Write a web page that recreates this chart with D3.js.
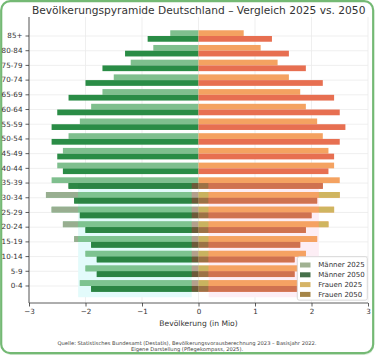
<!DOCTYPE html>
<html><head><meta charset="utf-8">
<script src="https://cdn.jsdelivr.net/npm/d3@7"></script>
<style>html,body{margin:0;padding:0;background:#fff;} svg{display:block;font-family:"DejaVu Sans",sans-serif;}</style>
</head><body><svg id="c" width="375" height="356"></svg>
<script>
const categories = ["85+","80-84","75-79","70-74","65-69","60-64","55-59","50-54","45-49","40-44","35-39","30-34","25-29","20-24","15-19","10-14","5-9","0-4"];
const maenner2025 = [0.5,0.8,1.2,1.5,1.7,1.9,2.1,2.3,2.4,2.5,2.6,2.7,2.6,2.4,2.2,2.0,2.0,2.1];
const maenner2050 = [0.9,1.3,1.7,2.0,2.3,2.5,2.6,2.6,2.5,2.4,2.3,2.2,2.1,2.0,1.9,1.8,1.8,1.9];
const frauen2025  = [0.8,1.1,1.4,1.6,1.8,1.9,2.1,2.2,2.3,2.4,2.5,2.5,2.4,2.3,2.1,1.9,1.8,1.8];
const frauen2050  = [1.3,1.6,1.9,2.2,2.4,2.5,2.6,2.5,2.4,2.3,2.2,2.1,2.0,1.9,1.8,1.7,1.7,1.75];
const xTicks = [-3,-2,-1,0,1,2,3];
const seriesNames = ["Männer 2025","Männer 2050","Frauen 2025","Frauen 2050"];
const titleText = "Bevölkerungspyramide Deutschland – Vergleich 2025 vs. 2050";
const xLabel = "Bevölkerung (in Mio)";
const sourceLines = ["Quelle: Statistisches Bundesamt (Destatis), Bevölkerungsvorausberechnung 2023 – Basisjahr 2022.","Eigene Darstellung (Pflegekompass, 2025)."];

const colors = {m25:"#7fbf8e", m50:"#2a8c46", f25:"#f4a261", f50:"#e76f51"};
const legendColors = ["#a0b192","#46704a","#d6b466","#a58548"];

const svg = d3.select("#c");
// outer card
svg.append("rect").attr("x",2).attr("y",3).attr("width",372).attr("height",352).attr("rx",9)
  .attr("fill","#cfe6cf").attr("opacity",0.7);
svg.append("rect").attr("x",1.2).attr("y",1.2).attr("width",372).attr("height",352).attr("rx",9)
  .attr("fill","#fff").attr("stroke","#74b974").attr("stroke-width",2.2);

const x = d3.scaleLinear().domain([-3,3]).range([29,368]);
const y = d3.scaleBand().domain(categories).range([28.65,293.35]).paddingInner(0.22).paddingOuter(0.11);
const bw = y.bandwidth();
const plotTop = 17, plotBottom = 303;

const data = categories.map((c,i)=>({cat:c, m25:maenner2025[i], m50:maenner2050[i], f25:frauen2025[i], f50:frauen2050[i]}));

// grid
const g = svg.append("g");
g.selectAll(".vg").data(xTicks).join("line")
  .attr("x1",d=>x(d)).attr("x2",d=>x(d)).attr("y1",plotTop).attr("y2",plotBottom)
  .attr("stroke","#ebebeb").attr("stroke-width",0.8);
g.selectAll(".hg").data(categories).join("line")
  .attr("x1",x(-3)).attr("x2",x(3)).attr("y1",d=>y(d)+bw/2).attr("y2",d=>y(d)+bw/2)
  .attr("stroke","#ebebeb").attr("stroke-width",0.8);

// overlay region (tinted)
const ovTop = y("35-39")+bw/2, ovBottom = y("0-4")+bw+5.5;
const regions = [
  {x0:-3, x1:-2.13, m25:"#98ae90", m50:"#2d8745", f25:colors.f25, f50:colors.f50},
  {x0:-2.13, x1:-0.12, m25:"#7ec390", m50:"#2b8443", f25:colors.f25, f50:colors.f50, bg:"#e3fbfb"},
  {x0:-0.12, x1:0, m25:"#b4a08d", m50:"#6d5a39", f25:colors.f25, f50:colors.f50},
  {x0:0, x1:0.18, m25:colors.m25, m50:colors.m50, f25:"#c9b35f", f50:"#9c7245"},
  {x0:0.18, x1:2.13, m25:colors.m25, m50:colors.m50, f25:"#f5a263", f50:"#cf7250", bg:"#fdeef5"},
  {x0:2.13, x1:3, m25:colors.m25, m50:colors.m50, f25:"#cfb560", f50:"#cf7250"}
];
regions.filter(r=>r.bg).forEach(r=>{
  svg.append("rect").attr("x",x(r.x0)).attr("y",ovTop).attr("width",x(r.x1)-x(r.x0)).attr("height",ovBottom-ovTop).attr("fill",r.bg);
});

function drawBars(sel, cols){
  const keys = [["m25",-1,0],["m50",-1,1],["f25",1,0],["f50",1,1]];
  keys.forEach(([k,s,off])=>{
    sel.append("g").selectAll("rect").data(data).join("rect")
      .attr("x",d=>s<0?x(-d[k]):x(0))
      .attr("width",d=>s<0?x(0)-x(-d[k]):x(d[k])-x(0))
      .attr("y",d=>y(d.cat)+off*bw/2).attr("height",bw/2).attr("fill",cols[k]);
  });
}
drawBars(svg.append("g"), colors);
const defs = svg.append("defs");
regions.forEach((r,i)=>{
  defs.append("clipPath").attr("id","rc"+i).append("rect")
    .attr("x",x(r.x0)).attr("y",ovTop).attr("width",x(r.x1)-x(r.x0)).attr("height",ovBottom-ovTop);
  drawBars(svg.append("g").attr("clip-path",`url(#rc${i})`), r);
});

// axes
const yAxis = d3.axisLeft(y).tickSize(3.5).tickPadding(3);
const yg = svg.append("g").attr("transform",`translate(${x(-3)},0)`).call(yAxis);
yg.select(".domain").remove();
svg.append("line").attr("x1",x(-3)).attr("x2",x(-3)).attr("y1",plotTop).attr("y2",plotBottom).attr("stroke","#333").attr("stroke-width",0.8);
yg.selectAll("text").attr("font-size",7.2).attr("fill","#333").attr("font-family","DejaVu Sans");
yg.selectAll(".tick line").attr("stroke","#333").attr("stroke-width",0.8);

const xAxis = d3.axisBottom(x).tickValues(xTicks).tickSize(3.5).tickPadding(2).tickFormat(d=>d<0?"\u2212"+Math.abs(d):d);
const xg = svg.append("g").attr("transform",`translate(0,${plotBottom})`).call(xAxis);
xg.select(".domain").remove();
svg.append("line").attr("x1",x(-3)).attr("x2",x(3)).attr("y1",plotBottom).attr("y2",plotBottom).attr("stroke","#333").attr("stroke-width",0.8);
xg.selectAll("text").attr("font-size",7.2).attr("fill","#333").attr("font-family","DejaVu Sans");
xg.selectAll(".tick line").attr("stroke","#333").attr("stroke-width",0.8);

svg.append("text").attr("x",x(0)).attr("y",326).attr("text-anchor","middle").attr("font-size",7.6).attr("fill","#333").text(xLabel);

// title
const t = svg.append("text").attr("x",198.7).attr("y",13.5).attr("text-anchor","middle").attr("font-size",11).attr("fill","#333").text(titleText);
const tw = t.node().getComputedTextLength();
t.attr("font-size", 11*334/tw);

// source
svg.selectAll(".src").data(sourceLines).join("text")
  .attr("x",187).attr("y",(d,i)=>345+i*6.2).attr("text-anchor","middle").attr("font-size",5.2).attr("fill","#444").text(d=>d);

// legend
const lg = svg.append("g");
lg.append("rect").attr("x",297.3).attr("y",256.7).attr("width",70).attr("height",43.5).attr("rx",2)
  .attr("fill","#fff").attr("stroke","#d0d0d0").attr("stroke-width",0.8);
const items = lg.selectAll(".li").data(seriesNames).join("g").attr("transform",(d,i)=>`translate(300,${265+i*9.8})`);
items.append("rect").attr("x",0).attr("y",-2.5).attr("width",10.5).attr("height",5).attr("fill",(d,i)=>legendColors[i]);
items.append("text").attr("x",18.3).attr("y",0).attr("dy","0.35em").attr("font-size",7).attr("fill","#333").text(d=>d);
</script></body></html>
